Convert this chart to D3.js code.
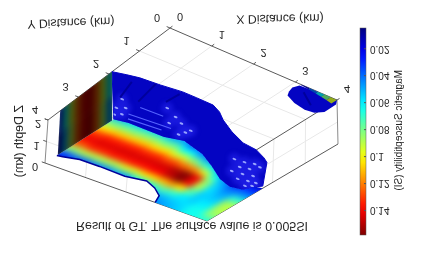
<!DOCTYPE html>
<html>
<head>
<meta charset="utf-8">
<script src="https://cdn.jsdelivr.net/npm/d3@7"></script>
<style>
html, body { margin: 0; padding: 0; background: #fff; }
svg { display: block; }
text { font-family: "Liberation Sans", sans-serif; fill: #262626; }
</style>
</head>
<body>
<svg id="chart" width="423" height="254"></svg>
<script>
const titleText = 'Result of GT. The surface value is 0.005SI'
const xTicks = [0, 1, 2, 3, 4]
const yTicks = [0, 1, 2, 3, 4]
const zTicks = [0, 1, 2]
const cbarTicks = [0.02, 0.04, 0.06, 0.08, 0.1, 0.12, 0.14]
const cbarDomain = [0.005, 0.1585]

// susceptibility on the z=0 plane, one row per heatX, one value per heatY
const heatX = [0, 0.5, 1, 1.5, 2, 2.25, 2.5, 2.75, 3, 3.25, 3.5, 4]
const heatY = [1.75, 2, 2.25, 2.5, 2.75, 3, 3.25, 3.5, 3.75, 4]
const heatValues = [
	[.05, .08, .105, .132, .142, .128, .085, .035, .02, .02],
	[.055, .08, .108, .135, .144, .134, .09, .04, .02, .02],
	[.055, .082, .108, .135, .145, .136, .09, .045, .025, .02],
	[.05, .078, .105, .133, .145, .137, .095, .05, .03, .02],
	[.035, .062, .095, .128, .146, .14, .105, .062, .04, .03],
	[.03, .05, .085, .122, .152, .148, .11, .068, .045, .035],
	[.02, .04, .072, .118, .158, .158, .115, .075, .05, .04],
	[.015, .03, .06, .095, .142, .142, .105, .07, .052, .045],
	[.01, .02, .04, .065, .085, .09, .075, .06, .055, .05],
	[.01, .015, .03, .045, .055, .058, .055, .055, .058, .055],
	[.01, .012, .02, .03, .042, .05, .055, .06, .065, .065],
	[.01, .01, .015, .03, .045, .07, .09, .09, .085, .068]
]

// edge between the coloured plane and the blue surface (km, z=0)
const borderX = [0, .31, .82, 1.2, 1.61, 2.21, 2.66, 3.11, 3.46, 3.74, 3.85, 4, 4]
const borderY = [1.85, 1.79, 1.81, 1.82, 1.71, 1.91, 2.19, 2.5, 2.64, 2.58, 2.34, 2.3, 4]
// torn edge of the plane on the Y=4 side
const gapX = [2.72, 2.61, 2.34, 2.04, 1.58, .94, .46, .12, 0]
const gapY = [4, 3.74, 3.54, 3.41, 3.51, 3.49, 3.5, 3.6, 3.63]

// blue surface rim
const rimX = [0, .3, .57, 1.04, 1.54, 1.89, 2.3, 2.55, 2.79, 3.2, 3.63, 4, 4, 4, 4]
const rimY = [1.9, 1.82, 1.76, 1.73, 1.67, 1.68, 1.70, 1.83, 2.03, 2.29, 2.5, 2.56, 2.3, 2.2, 2.3]
const rimZ = [2, 2, 2, 2, 2, 2, 2, 2, 2, 2, 2, 2, 1.4, 1.1, .1]

// blue blob at the far X=4 corner
const blobX = [3.14, 3.08, 3.12, 3.19, 3.46, 3.76, 3.97, 4.1, 4.09, 4]
const blobY = [.05, .2, .36, .5, .64, .71, .68, .53, .15, 0]
const stripX = [3.15, 3.35, 3.55, 3.7, 3.85, 4]
const stripW = [.02, .05, .08, .11, .14, .18]
const stripV = [.02, .04, .06, .08, .095, .105]

// X=0 wall, values along wallY at z=0 and z=2
const wallY = [3.6, 3.4, 3.2, 3, 2.8, 2.6, 2.4, 2.2, 2, 1.9]
const wallBase = [.015, .05, .09, .125, .145, .15, .125, .09, .05, .03]
const wallTop = [.03, .065, .095, .125, .145, .148, .125, .095, .065, .045]

// bright facets and dark creases of the blue surface
const glintX = [1.66, 1.99, 2.23, 2.5, 2.03, 2.54, 2.44, .85, 1.0, .96, 1.08, .75,
	2.83, 3.06, 3.26, 3.11, 3.31, 3.42, 3.09, 3.33, 3.54, 3.38, 3.59, 3.76, 3.67, 3.78]
const glintY = [2.33, 2.5, 2.63, 2.86, 2.76, 2.74, 3.0, 2.9, 2.8, 3.12, 3.03, 2.58,
	1.7, 1.68, 1.62, 1.89, 1.84, 1.66, 2.11, 2.08, 2.02, 2.29, 2.24, 2.21, 2.43, 2.35]
const glintZ = [2, 2, 2, 2, 2, 2, 2, 2, 2, 2, 2, 2, 0, 0, 0, 0, 0, 0, 0, 0, 0, 0, 0, 0, 0, 0]
const dashX = [[1.22, 1.78], [1.18, 2.18], [1.28, 2.07]]
const dashY = [[2.62, 2.62], [2.95, 2.9], [3.1, 3.06]]
const creaseX = [[.53, .68], [.95, 1.06], [1.54, 1.5], [3.35, 3.75]]
const creaseY = [[1.97, 2.55], [1.75, 2.47], [1.77, 2.16], [.2, .5]]

const svg = d3.select('#chart')

// box corners on screen: [x=0 y=0], [x=4 y=0], [x=4 y=4], [x=0 y=4]
const lowCorners = [[173, 82], [338, 144], [207, 221], [45, 163]]
const topCorners = [[170, 28], [337, 100], [211, 178], [48, 120]]

const xFrac = d3.scaleLinear().domain([0, 4]).range([0, 1])
const yFrac = d3.scaleLinear().domain([0, 4]).range([0, 1])
const zFrac = d3.scaleLinear().domain([0, 2]).range([0, 1])

const planePoint = (c, u, v) => [0, 1].map(k =>
	c[0][k] * (1 - u) * (1 - v) + c[1][k] * u * (1 - v) + c[2][k] * u * v + c[3][k] * (1 - u) * v)

const project = (x, y, z) => {
	const u = xFrac(x), v = yFrac(y), w = zFrac(z)
	const a = planePoint(lowCorners, u, v)
	const b = planePoint(topCorners, u, v)
	return [a[0] + (b[0] - a[0]) * w, a[1] + (b[1] - a[1]) * w]
}

const jet = t => {
	const f = o => Math.round(255 * Math.max(0, Math.min(1, 1.5 - Math.abs(4 * t - o))))
	return `rgb(${f(3)},${f(2)},${f(1)})`
}
const color = d3.scaleSequential(jet).domain(cbarDomain)

const poly = pts => 'M' + pts.map(p => p.join(',')).join('L') + 'Z'

const defs = svg.append('defs')
const addBlur = (id, s) => defs.append('filter').attr('id', id)
	.attr('x', '-20%').attr('y', '-20%').attr('width', '140%').attr('height', '140%')
	.attr('color-interpolation-filters', 'sRGB')
	.append('feGaussianBlur').attr('stdDeviation', s)
addBlur('soft', 0.5)
addBlur('heatBlur', 3)
addBlur('wallBlur', 2.4)
addBlur('glintBlur', 0.6)
addBlur('patchBlur', 2)

const root = svg.append('g').attr('filter', 'url(#soft)')

// grid lines
const gridColor = '#e8e8e8'
const line3d = (g, a, b, col, w) => {
	const p = project(...a), q = project(...b)
	g.append('line').attr('x1', p[0]).attr('y1', p[1]).attr('x2', q[0]).attr('y2', q[1])
		.attr('stroke', col).attr('stroke-width', w)
}
const grid = root.append('g')
xTicks.slice(1, -1).forEach(x => {
	line3d(grid, [x, 0, 2], [x, 4, 2], gridColor, 1)
	line3d(grid, [x, 4, 2], [x, 4, 0], gridColor, 1)
})
yTicks.slice(1, -1).forEach(y => {
	line3d(grid, [0, y, 2], [4, y, 2], gridColor, 1)
	line3d(grid, [4, y, 2], [4, y, 0], gridColor, 1)
})
line3d(grid, [4, 0, 1], [4, 4, 1], gridColor, 1)
line3d(grid, [0, 4, 1], [4, 4, 1], gridColor, 1)

// box edges
const boxColor = '#5a5a5a'
const box = root.append('g')
line3d(box, [0, 0, 2], [4, 0, 2], boxColor, 1)
line3d(box, [0, 0, 2], [0, 4, 2], boxColor, 1)
line3d(box, [4, 0, 2], [4, 4, 2], boxColor, 1)
line3d(box, [0, 4, 2], [0, 4, 0], '#8a8a8a', 1)
line3d(box, [4, 0, 2], [4, 0, 0], '#8a8a8a', 1)
line3d(box, [0, 4, 0], [4, 4, 0], boxColor, 1)
line3d(box, [4, 4, 0], [4, 0, 0], boxColor, 1)

// tick marks
xTicks.forEach(x => line3d(box, [x, 0, 2], [x, -0.08, 2], boxColor, 1))
yTicks.forEach(y => line3d(box, [0, y, 2], [-0.08, y, 2], boxColor, 1))
zTicks.forEach(z => line3d(box, [0, 4, z], [-0.08, 4, z], boxColor, 1))

// clip for the coloured plane
const heatOutline = d3.range(borderX.length).map(i => project(borderX[i], borderY[i], 0))
	.concat(d3.range(gapX.length).map(i => project(gapX[i], gapY[i], 0)))
defs.append('clipPath').attr('id', 'heatClip').append('path').attr('d', poly(heatOutline))

// cell edges half way between the sampled columns and rows, outer ones pushed out for the blur
const edges = arr => arr.map((d, i) => i === 0 ? d - 0.6 : (arr[i - 1] + d) / 2).concat([arr[arr.length - 1] + 0.6])
const xEdges = edges(heatX)
const yEdges = edges(heatY)

const heatCells = []
heatX.forEach((x, i) => heatY.forEach((y, j) => {
	heatCells.push({ i, j, v: heatValues[i][j] })
}))

// blue surface first, the plane sits against it
const blueFill = '#0404c2'
const surfaceOutline = d3.range(rimX.length).map(i => project(rimX[i], rimY[i], rimZ[i]))
	.concat(d3.range(borderX.length - 2).reverse().map(i => project(borderX[i], borderY[i], 0)))
root.append('path')
	.attr('d', poly(surfaceOutline))
	.attr('fill', blueFill)
	.attr('stroke', blueFill)
	.attr('stroke-width', 1)

defs.append('clipPath').attr('id', 'blueClip').append('path').attr('d', poly(surfaceOutline))
const blueG = root.append('g').attr('clip-path', 'url(#blueClip)')

// lighter patch round the facets
const patch = blueG.append('g').attr('filter', 'url(#patchBlur)')
glintX.forEach((x, i) => {
	const p = project(x, glintY[i], glintZ[i])
	patch.append('circle').attr('cx', p[0]).attr('cy', p[1]).attr('r', 6)
		.attr('fill', '#2424ec').attr('fill-opacity', 0.55)
})

const facets = blueG.append('g').attr('filter', 'url(#glintBlur)')
creaseX.slice(0, 3).forEach((xs, k) => {
	const a = project(xs[0], creaseY[k][0], 2), b = project(xs[1], creaseY[k][1], 2)
	facets.append('line').attr('x1', a[0]).attr('y1', a[1]).attr('x2', b[0]).attr('y2', b[1])
		.attr('stroke', '#00009c').attr('stroke-width', 2)
})
dashX.forEach((xs, k) => {
	const a = project(xs[0], dashY[k][0], 2), b = project(xs[1], dashY[k][1], 2)
	facets.append('line').attr('x1', a[0]).attr('y1', a[1]).attr('x2', b[0]).attr('y2', b[1])
		.attr('stroke', '#5563ff').attr('stroke-width', 1.1)
})
glintX.forEach((x, i) => {
	const p = project(x, glintY[i], glintZ[i])
	facets.append('ellipse').attr('cx', p[0]).attr('cy', p[1]).attr('rx', 2).attr('ry', 1)
		.attr('fill', '#98a4ff')
		.attr('transform', `rotate(22 ${p[0]} ${p[1]})`)
})

// coloured plane
root.append('g').attr('clip-path', 'url(#heatClip)')
	.append('g').attr('filter', 'url(#heatBlur)')
	.selectAll('path')
	.data(heatCells)
	.join('path')
	.attr('d', d => poly([
		project(xEdges[d.i], yEdges[d.j], 0),
		project(xEdges[d.i + 1], yEdges[d.j], 0),
		project(xEdges[d.i + 1], yEdges[d.j + 1], 0),
		project(xEdges[d.i], yEdges[d.j + 1], 0)
	]))
	.attr('fill', d => color(d.v))
	.attr('stroke', d => color(d.v))
	.attr('stroke-width', 0.6)

// dark rim along the torn edge
root.append('path')
	.attr('d', d3.line()(d3.range(gapX.length).map(i => project(gapX[i], gapY[i], 0))))
	.attr('fill', 'none')
	.attr('stroke', '#00009a')
	.attr('stroke-width', 1.5)

// X=0 wall
const wallClipPts = [project(0, wallY[0], 0), project(0, wallY[0], 2),
	project(0, wallY[wallY.length - 1], 2), project(0, wallY[wallY.length - 1], 0)]
defs.append('clipPath').attr('id', 'wallClip').append('path').attr('d', poly(wallClipPts))
const wallG = root.append('g').attr('clip-path', 'url(#wallClip)').append('g').attr('filter', 'url(#wallBlur)')
wallY.slice(0, -1).forEach((y, i) => {
	const y2 = wallY[i + 1]
	wallG.append('path')
		.attr('d', poly([project(0, y + .1, -.2), project(0, y2 - .1, -.2), project(0, y2 - .1, 1), project(0, y + .1, 1)]))
		.attr('fill', d3.color(color(wallBase[i])).darker(3))
	wallG.append('path')
		.attr('d', poly([project(0, y + .1, 1), project(0, y2 - .1, 1), project(0, y2 - .1, 2.2), project(0, y + .1, 2.2)]))
		.attr('fill', d3.color(color(wallTop[i])).darker(3))
})

// blob at the far corner
root.append('path')
	.attr('d', poly(blobX.map((x, i) => project(x, blobY[i], 2))))
	.attr('fill', blueFill)
const creaseBlob = root.append('g').attr('filter', 'url(#glintBlur)')
const blobCrease = creaseX.length - 1
const ca = project(creaseX[blobCrease][0], creaseY[blobCrease][0], 2)
const cb = project(creaseX[blobCrease][1], creaseY[blobCrease][1], 2)
creaseBlob.append('line').attr('x1', ca[0]).attr('y1', ca[1]).attr('x2', cb[0]).attr('y2', cb[1])
	.attr('stroke', '#00009c').attr('stroke-width', 2)
stripX.slice(0, -1).forEach((x, i) => {
	creaseBlob.append('path')
		.attr('d', poly([project(x, 0, 2), project(stripX[i + 1], 0, 2),
			project(stripX[i + 1], stripW[i + 1], 2), project(x, stripW[i], 2)]))
		.attr('fill', d3.color(color(stripV[i])).darker(1.1))
})

// text, the whole picture is mirrored top to bottom
const flipText = (x, y, str, size, rot, anchor) => root.append('text')
	.attr('transform', `translate(${x},${y}) rotate(${rot}) scale(1,-1)`)
	.attr('font-size', size)
	.attr('text-anchor', anchor)
	.attr('dy', '0.35em')
	.text(str)

xTicks.forEach(x => {
	const p = project(x, 0, 2)
	flipText(p[0] + 10, p[1] - 11, x, 11, 0, 'middle')
})
yTicks.forEach(y => {
	const p = project(0, y, 2)
	flipText(p[0] - 13, p[1] - 10, y, 11, 0, 'middle')
})
zTicks.forEach(z => {
	const p = project(0, 4, z)
	flipText(p[0] - 10, p[1] + 4, z, 11, 0, 'middle')
})

flipText(71, 23, 'Y Distance (km)', 12.3, -2, 'middle')
flipText(280, 19, 'X Distance (km)', 12.3, -1, 'middle')
flipText(192, 226, titleText, 12.4, 0, 'middle')

root.append('text')
	.attr('transform', 'translate(19,105) scale(1,-1) rotate(-90)')
	.attr('font-size', 12.4)
	.attr('dy', '0.35em')
	.text('Z Depth (km)')
root.append('text')
	.attr('transform', 'translate(398,70) scale(1,-1) rotate(-90)')
	.attr('font-size', 10)
	.attr('dy', '0.35em')
	.text('Magnetic Susceptibility (SI)')

// colorbar
const cbarScale = d3.scaleLinear().domain(cbarDomain).range([28, 235])
const grad = defs.append('linearGradient').attr('id', 'cbarGrad')
	.attr('x1', 0).attr('y1', 0).attr('x2', 0).attr('y2', 1)
d3.range(0, 1.001, 0.05).forEach(t => {
	grad.append('stop').attr('offset', t).attr('stop-color', jet(t))
})
root.append('rect')
	.attr('x', 360).attr('y', cbarScale(cbarDomain[0]))
	.attr('width', 6).attr('height', cbarScale(cbarDomain[1]) - cbarScale(cbarDomain[0]))
	.attr('fill', 'url(#cbarGrad)')
	.attr('stroke', '#555').attr('stroke-width', 0.5)

const cbarAxis = d3.axisRight(cbarScale).tickValues(cbarTicks).tickSize(2).tickPadding(2).tickFormat(d => d)
const cbarG = root.append('g').attr('transform', 'translate(367,0)').call(cbarAxis)
cbarG.select('.domain').remove()
cbarG.selectAll('.tick line').attr('stroke', '#555').attr('x1', -3).attr('x2', -1)
cbarG.selectAll('.tick text')
	.attr('font-size', 10)
	.attr('font-family', '"Liberation Sans", sans-serif')
	.attr('x', 3)
	.attr('transform', 'scale(1,-1)')
</script>
</body>
</html>
